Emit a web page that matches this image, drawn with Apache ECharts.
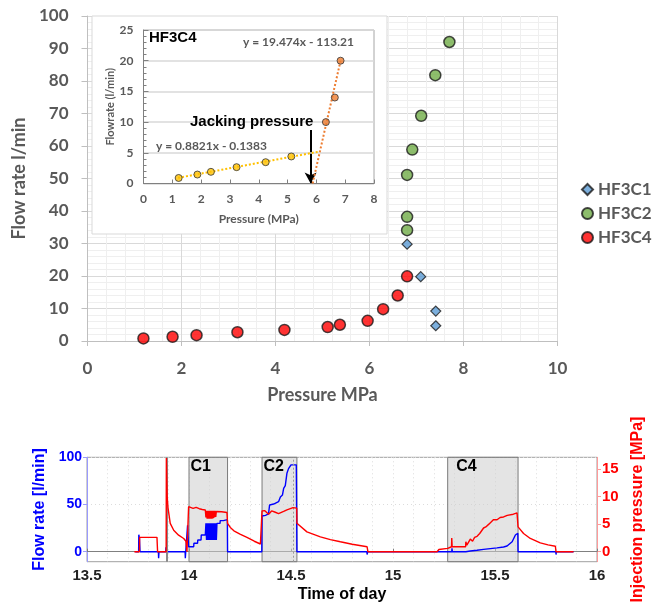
<!DOCTYPE html>
<html>
<head>
<meta charset="utf-8">
<script src="https://cdn.jsdelivr.net/npm/echarts@6/dist/echarts.min.js"></script>
<style>
html,body{margin:0;padding:0;background:#fff;}
#chart{width:655px;height:603px;}
</style>
</head>
<body>
<div id="chart"></div>
<script>
// ---------- Main scatter (Flow rate vs Pressure) ----------
const seriesNames = ['HF3C1', 'HF3C2', 'HF3C4'];
const hf3c1 = [[6.8, 29.8], [7.09, 19.8], [7.41, 9.2], [7.41, 4.7]];
const hf3c2 = [[7.7, 92], [7.4, 81.8], [7.1, 69.3], [6.91, 58.9], [6.8, 51.1], [6.8, 38.2], [6.8, 34.1]];
const hf3c4 = [[1.19, 0.8], [1.81, 1.3], [2.32, 1.8], [3.19, 2.7], [4.19, 3.4], [5.11, 4.3], [5.37, 5.0], [5.96, 6.2], [6.29, 9.8], [6.6, 14.0], [6.8, 19.9]];

// ---------- Inset (HF3C4) ----------
const insetLow = [[1.22, 0.9], [1.87, 1.46], [2.34, 1.9], [3.23, 2.66], [4.24, 3.47], [5.13, 4.4]];
const insetHigh = [[6.33, 10.0], [6.64, 14.0], [6.84, 20.0]];
const trendLow = [[1.2, 0.92], [6.1, 5.2]];
const trendHigh = [[5.87, 0.0], [6.84, 20.0]];
const jackingArrow = [[5.8, 8.7], [5.8, 0.0]];
const eqHigh = 'y = 19.474x - 113.21';
const eqLow = 'y = 0.8821x - 0.1383';

// ---------- Bottom time series ----------
const flowRate = [
  [13.737, 0], [13.753, 0], [13.754, 18], [13.757, 14], [13.760, 0],
  [13.850, 0], [13.851, -7], [13.853, 0],
  [13.886, 0], [13.887, 4.6], [13.891, 4.6], [13.892, 0],
  [13.981, 0], [13.982, -7], [13.984, 0], [13.992, 0], [13.993, 28], [13.995, 18], [13.998, 5.3],
  [14.023, 5.3], [14.024, 8.9], [14.042, 8.9], [14.043, 12.4], [14.059, 12.4], [14.060, 17.7], [14.080, 17.7],
  [14.083, 30], [14.086, 12.4], [14.089, 30], [14.092, 12.4], [14.095, 30], [14.098, 12.4], [14.101, 30],
  [14.104, 12.4], [14.107, 30], [14.110, 12.4], [14.113, 30], [14.116, 12.4], [14.119, 30], [14.122, 12.4],
  [14.125, 30], [14.128, 12.4], [14.131, 30], [14.134, 12.4], [14.137, 30], [14.140, 30],
  [14.152, 30], [14.153, 32.9], [14.169, 32.9], [14.170, 34], [14.188, 34], [14.189, 0],
  [14.357, 0], [14.358, 37.8], [14.375, 38.5], [14.390, 40], [14.395, 49.5], [14.415, 50.5], [14.439, 53],
  [14.448, 58], [14.458, 60], [14.464, 67], [14.472, 70], [14.480, 83], [14.488, 88], [14.493, 90],
  [14.500, 92], [14.526, 92], [14.529, 0],
  [14.872, 0], [14.873, -3], [14.876, 0],
  [15.288, 0], [15.289, 3.5], [15.291, 0], [15.357, 0], [15.358, 1.5], [15.360, 0.3],
  [15.379, 0.7], [15.412, 1.5], [15.444, 2.4], [15.477, 3.2], [15.510, 4.0], [15.542, 5.0], [15.559, 6.0],
  [15.584, 10.6], [15.600, 17.7], [15.608, 19.5], [15.612, 19.5], [15.613, 0],
  [15.798, 0], [15.799, -3], [15.801, 0], [15.885, 0]
];
const injPressure = [
  [13.732, 0], [13.757, 0], [13.758, 2.6], [13.843, 2.6], [13.846, 0],
  [13.888, 0], [13.889, 17.0], [13.893, 10.0], [13.897, 8.0], [13.908, 5.15], [13.925, 3.9], [13.949, 3.0],
  [13.974, 2.4], [13.985, 1.9], [13.990, 0], [13.997, 0],
  [13.998, 8.16], [14.005, 7.9], [14.020, 7.85], [14.035, 8.05], [14.050, 7.8], [14.065, 7.65], [14.080, 7.56],
  [14.083, 6.2], [14.086, 7.4], [14.089, 6.0], [14.092, 7.4], [14.095, 6.0], [14.098, 7.4], [14.101, 6.0],
  [14.104, 7.4], [14.107, 6.0], [14.110, 7.4], [14.113, 6.0], [14.116, 7.4], [14.119, 6.1], [14.122, 7.4],
  [14.125, 6.2], [14.128, 7.4], [14.131, 6.3], [14.134, 7.3], [14.137, 7.3],
  [14.160, 7.25], [14.186, 7.1], [14.189, 5.15], [14.2025, 4.4], [14.220, 3.8], [14.250, 3.2], [14.284, 2.6],
  [14.320, 1.9], [14.350, 1.4], [14.357, 1.3],
  [14.358, 7.4], [14.372, 7.45], [14.390, 6.8], [14.405, 7.4], [14.420, 7.2], [14.439, 6.9], [14.464, 7.3],
  [14.480, 7.6], [14.510, 8.0], [14.528, 7.9], [14.529, 5.15], [14.578, 3.6], [14.644, 2.7], [14.693, 2.2],
  [14.742, 1.8], [14.800, 1.35], [14.873, 0.9], [14.877, 0],
  [15.216, 0], [15.225, 0.4], [15.268, 0.6], [15.287, 0.9], [15.288, 2.5], [15.290, 0.9], [15.356, 0.9],
  [15.357, 1.8], [15.362, 1.2], [15.370, 1.3], [15.379, 2.3], [15.390, 1.9], [15.400, 2.6], [15.412, 2.8],
  [15.425, 3.3], [15.444, 4.3], [15.455, 4.5], [15.470, 5.0], [15.477, 5.3], [15.492, 5.8], [15.510, 5.8],
  [15.525, 6.2], [15.542, 6.3], [15.560, 6.6], [15.590, 6.8], [15.608, 7.05], [15.612, 7.1],
  [15.613, 4.5], [15.640, 3.3], [15.673, 2.4], [15.722, 1.6], [15.760, 1.25], [15.796, 1.0], [15.799, 0], [15.885, 0]
];
const cycleNames = ['C1', 'C2', 'C4'];
const cycleStart = [14.0, 14.358, 15.268];
const cycleEnd = [14.189, 14.529, 15.613];
const spikeLine = 13.887;
const innerLine = 14.51;
const flowTicks = [0, 50, 100];
const pressureTicks = [0, 5, 10, 15];

const GRAY = '#595959';
const mainFont = 'Lato';
const mFont = 'Liberation Sans';

const chart = echarts.init(document.getElementById('chart'), null, {renderer: 'canvas'});

const markAreaData = cycleNames.map((n, i) => [
  {name: n, xAxis: cycleStart[i], label: {offset: [i === 2 ? 7 : 0, 0]}},
  {xAxis: cycleEnd[i]}
]);

const option = {
  animation: false,
  backgroundColor: '#fff',
  textStyle: {fontFamily: mainFont},
  legend: {
    data: seriesNames,
    orient: 'vertical',
    left: 576,
    top: 176,
    itemWidth: 11,
    itemHeight: 11,
    itemGap: 7,
    textStyle: {fontFamily: mainFont, fontSize: 17, fontWeight: 'bold', color: GRAY}
  },
  grid: [
    {left: 87.5, right: 97.5, top: 16, bottom: 262, containLabel: false, outerBoundsMode: 'none'},
    {left: 143.5, width: 230.5, top: 30, height: 153.5, show: true, borderColor: '#a6a6a6', borderWidth: 1, z: 6, outerBoundsMode: 'none'},
    {left: 87, right: 58, top: 457.3, height: 104.4, show: true, borderColor: '#a0a0a0', borderWidth: 1, outerBoundsMode: 'none'}
  ],
  graphic: [
    {type: 'rect', z: 5, shape: {x: 92, y: 16, width: 295, height: 218},
     style: {fill: '#ffffff', stroke: '#d9d9d9', lineWidth: 1}},
    {type: 'text', z: 30, x: 149, y: 37.5,
     style: {text: 'HF3C4', font: 'bold 15px "Liberation Sans"', fill: '#000', verticalAlign: 'middle'}},
    {type: 'text', z: 30, x: 243, y: 42,
     style: {text: eqHigh, font: 'bold 12px Lato', fill: GRAY, verticalAlign: 'middle'}},
    {type: 'text', z: 30, x: 156, y: 146,
     style: {text: eqLow, font: 'bold 12px Lato', fill: GRAY, verticalAlign: 'middle'}},
    {type: 'text', z: 30, x: 190, y: 122,
     style: {text: 'Jacking pressure', font: 'bold 15px "Liberation Sans"', fill: '#000', verticalAlign: 'middle'}}
  ],
  xAxis: [
    {
      gridIndex: 0, type: 'value', min: 0, max: 10, interval: 2,
      name: 'Pressure MPa', nameLocation: 'middle', nameGap: 45,
      nameTextStyle: {fontFamily: mainFont, fontSize: 18, fontWeight: 'bold', color: GRAY},
      axisLine: {show: true, lineStyle: {color: '#bfbfbf', width: 1}},
      axisTick: {show: true, length: 5, lineStyle: {color: '#bfbfbf'}},
      axisLabel: {margin: 19, fontFamily: mainFont, fontSize: 17, fontWeight: 'bold', color: GRAY},
      splitLine: {show: true, lineStyle: {color: '#d9d9d9', width: 1}},
      minorTick: {show: false, splitNumber: 5},
      minorSplitLine: {show: true, lineStyle: {color: '#efefef', width: 1}}
    },
    {
      gridIndex: 1, type: 'value', min: 0, max: 8, interval: 1, z: 6,
      name: 'Pressure (MPa)', nameLocation: 'middle', nameGap: 30,
      nameTextStyle: {fontFamily: mainFont, fontSize: 12, fontWeight: 'bold', color: GRAY},
      axisLine: {show: true, lineStyle: {color: '#808080', width: 1}},
      axisTick: {show: true, inside: true, length: 4, lineStyle: {color: '#808080'}},
      axisLabel: {margin: 10, fontFamily: mainFont, fontSize: 12, fontWeight: 'bold', color: GRAY},
      splitLine: {show: false}
    },
    {
      gridIndex: 2, type: 'value', min: 13.5, max: 16, interval: 0.5,
      name: 'Time of day', nameLocation: 'middle', nameGap: 25,
      nameTextStyle: {fontFamily: mFont, fontSize: 16, fontWeight: 'bold', color: '#000'},
      axisLine: {show: true, lineStyle: {color: '#808080', width: 1}},
      axisTick: {show: true, inside: true, length: 3, lineStyle: {color: '#808080'}},
      axisLabel: {margin: 7, fontFamily: mFont, fontSize: 15, fontWeight: 'bold', color: '#222'},
      splitLine: {show: true, lineStyle: {color: '#dcdcdc', type: [1, 3], width: 1}},
      minorTick: {show: false, splitNumber: 5},
      minorSplitLine: {show: true, lineStyle: {color: '#dcdcdc', type: [1, 3], width: 1}}
    }
  ],
  yAxis: [
    {
      gridIndex: 0, type: 'value', min: 0, max: 100, interval: 10,
      name: 'Flow rate l/min', nameLocation: 'middle', nameGap: 53,
      nameTextStyle: {fontFamily: mainFont, fontSize: 18, fontWeight: 'bold', color: GRAY},
      axisLine: {show: true, lineStyle: {color: '#bfbfbf', width: 1}},
      axisTick: {show: true, length: 6, lineStyle: {color: '#bfbfbf'}},
      axisLabel: {margin: 19, fontFamily: mainFont, fontSize: 17, fontWeight: 'bold', color: GRAY},
      splitLine: {show: true, lineStyle: {color: '#d9d9d9', width: 1}},
      minorTick: {show: false, splitNumber: 5},
      minorSplitLine: {show: true, lineStyle: {color: '#efefef', width: 1}}
    },
    {
      gridIndex: 1, type: 'value', min: 0, max: 25, interval: 5, z: 6,
      name: 'Flowrate (l/min)', nameLocation: 'middle', nameGap: 28,
      nameTextStyle: {fontFamily: mainFont, fontSize: 11, fontWeight: 'bold', color: GRAY},
      axisLine: {show: true, lineStyle: {color: '#808080', width: 1}},
      axisTick: {show: true, inside: true, length: 5, lineStyle: {color: '#808080'}},
      minorTick: {show: true, splitNumber: 5, length: 3, lineStyle: {color: '#808080'}},
      axisLabel: {margin: 10, fontFamily: mainFont, fontSize: 12, fontWeight: 'bold', color: GRAY},
      splitLine: {show: true, lineStyle: {color: '#d9d9d9', width: 1.5}}
    },
    {
      gridIndex: 2, type: 'value', min: -10.6, max: 100, position: 'left',
      name: 'Flow rate [l/min]', nameLocation: 'middle', nameGap: 36,
      nameTextStyle: {fontFamily: mFont, fontSize: 16, fontWeight: 'bold', color: '#0000ff'},
      axisLine: {show: true, lineStyle: {color: '#9a9aff', width: 1}},
      axisTick: {show: true, length: 4, customValues: flowTicks, lineStyle: {color: '#9a9aff'}},
      axisLabel: {margin: 5, customValues: flowTicks, fontFamily: mFont, fontSize: 14, fontWeight: 'bold', color: '#0000ff'},
      splitLine: {show: true, lineStyle: {color: '#dcdcdc', type: [1, 3], width: 1}}
    },
    {
      gridIndex: 2, type: 'value', min: -1.81, max: 17.12, position: 'right',
      name: 'Injection pressure [MPa]', nameLocation: 'middle', nameGap: 29,
      nameTextStyle: {fontFamily: mFont, fontSize: 16, fontWeight: 'bold', color: '#ff0000'},
      axisLine: {show: true, lineStyle: {color: '#ff9a9a', width: 1}},
      axisTick: {show: true, length: 4, customValues: pressureTicks, lineStyle: {color: '#ff9a9a'}},
      axisLabel: {margin: 5, customValues: pressureTicks, fontFamily: mFont, fontSize: 15, fontWeight: 'bold', color: '#ff0000'},
      splitLine: {show: false}
    }
  ],
  series: [
    {
      name: 'HF3C1', type: 'scatter', xAxisIndex: 0, yAxisIndex: 0, data: hf3c1,
      symbol: 'diamond', symbolSize: 10,
      itemStyle: {color: '#5b9bd5', borderColor: '#1a1a1a', borderWidth: 1.2}
    },
    {
      name: 'HF3C2', type: 'scatter', xAxisIndex: 0, yAxisIndex: 0, data: hf3c2,
      symbol: 'circle', symbolSize: 11,
      itemStyle: {color: '#70ad47', borderColor: '#1a1a1a', borderWidth: 1.5}
    },
    {
      name: 'HF3C4', type: 'scatter', xAxisIndex: 0, yAxisIndex: 0, data: hf3c4,
      symbol: 'circle', symbolSize: 11,
      itemStyle: {color: '#ff0000', borderColor: '#1a1a1a', borderWidth: 1.5}
    },
    {
      type: 'line', xAxisIndex: 1, yAxisIndex: 1, data: trendLow, z: 7, symbol: 'none',
      lineStyle: {color: '#ffc000', width: 2, type: [2, 2]}
    },
    {
      type: 'line', xAxisIndex: 1, yAxisIndex: 1, data: trendHigh, z: 7, symbol: 'none',
      lineStyle: {color: '#ed7d31', width: 2, type: [2, 2]}
    },
    {
      type: 'scatter', xAxisIndex: 1, yAxisIndex: 1, data: insetLow, z: 8,
      symbol: 'circle', symbolSize: 7,
      itemStyle: {color: '#ffc000', borderColor: '#333', borderWidth: 1}
    },
    {
      type: 'scatter', xAxisIndex: 1, yAxisIndex: 1, data: insetHigh, z: 8,
      symbol: 'circle', symbolSize: 7,
      itemStyle: {color: '#ed7d31', borderColor: '#333', borderWidth: 1},
      markLine: {
        silent: true, symbol: ['none', 'arrow'], symbolSize: [9, 11],
        label: {show: false},
        lineStyle: {color: '#000', width: 2, type: 'solid'},
        data: [[{coord: jackingArrow[0]}, {coord: jackingArrow[1]}]]
      }
    },
    {
      type: 'line', xAxisIndex: 2, yAxisIndex: 2, data: flowRate, symbol: 'none', z: 3,
      lineStyle: {color: '#0000ff', width: 1.4},
      markArea: {
        silent: true,
        itemStyle: {color: 'rgba(205,205,205,0.55)', borderColor: '#7a7a7a', borderWidth: 1},
        label: {show: true, position: 'insideTopLeft', distance: 2,
          fontFamily: mFont, fontSize: 16, fontWeight: 'bold', color: '#000'},
        data: markAreaData
      },
      markLine: {
        silent: true, symbol: 'none', label: {show: false},
        data: [
          {xAxis: spikeLine, lineStyle: {color: '#8a8a8a', width: 2, type: 'solid'}},
          {xAxis: innerLine, lineStyle: {color: '#9a9a9a', width: 1, type: [2, 2]}}
        ]
      }
    },
    {
      type: 'line', xAxisIndex: 2, yAxisIndex: 3, data: injPressure, symbol: 'none', z: 6,
      lineStyle: {color: '#ff0000', width: 1.4}
    }
  ]
};
chart.setOption(option);
</script>
</body>
</html>
